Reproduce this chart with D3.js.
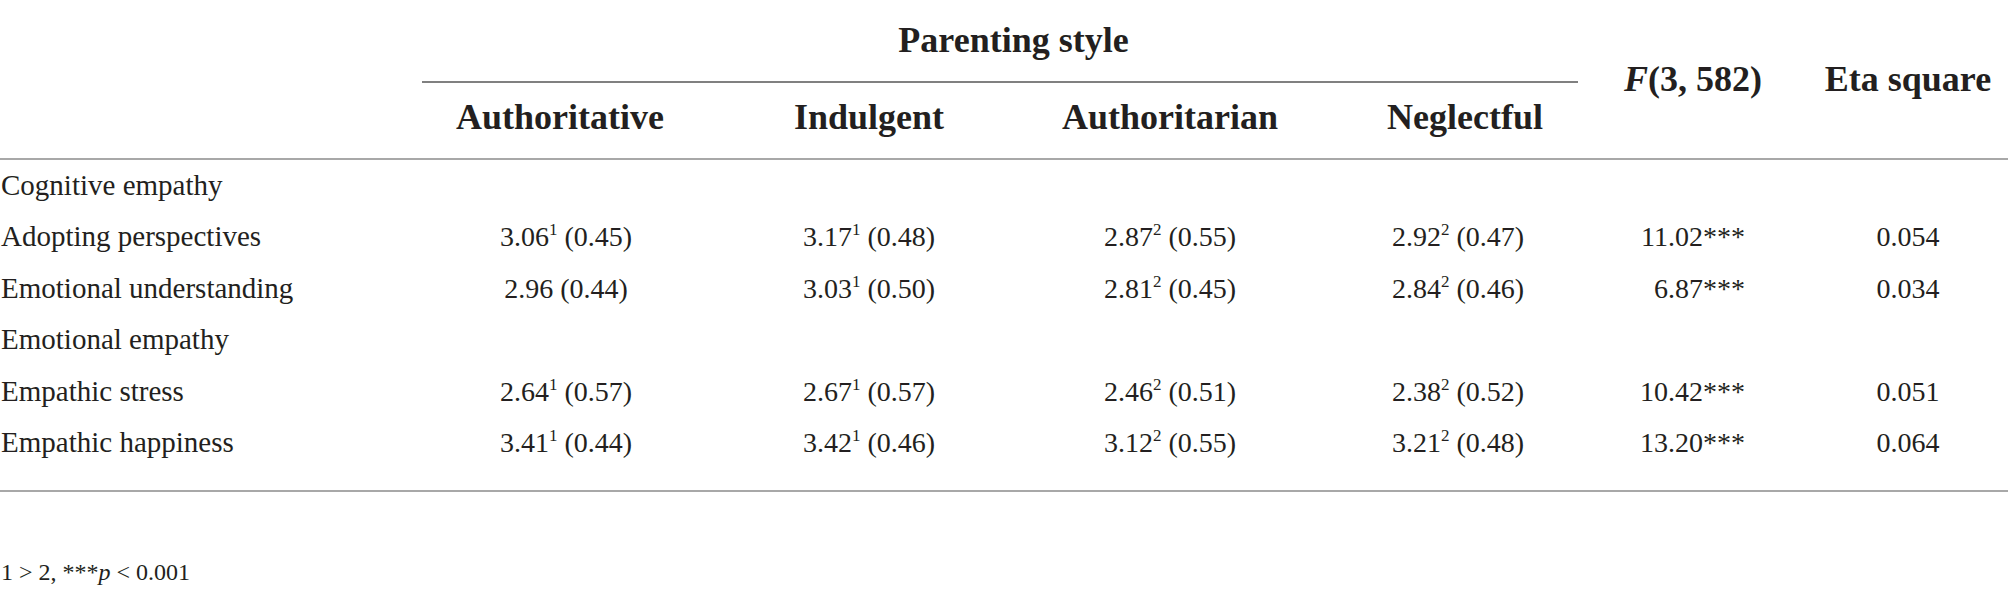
<!DOCTYPE html>
<html>
<head>
<meta charset="utf-8">
<script src="https://cdn.jsdelivr.net/npm/d3@7"></script>
<style>
    html, body { margin: 0; padding: 0; background: #fff; }
    svg { display: block; font-family: "Liberation Serif", "DejaVu Serif", serif; }
    .head { font-weight: bold; font-size: 36px; fill: #231f20; }
    .label { font-size: 29px; fill: #231f20; }
    .cell { font-size: 28px; fill: #231f20; }
    .note { font-size: 24px; fill: #231f20; }
</style>
</head>
<body>
<div id="chart"></div>
<script>
// table content
const groupTitle = "Parenting style";
const styles = ["Authoritative", "Indulgent", "Authoritarian", "Neglectful"];
const rowLabels = [
    "Cognitive empathy",
    "Adopting perspectives",
    "Emotional understanding",
    "Emotional empathy",
    "Empathic stress",
    "Empathic happiness"
];
const sectionRows = ["Cognitive empathy", "Emotional empathy"];

// one array per measure row: means per style
const meanValues = [
    [3.06, 3.17, 2.87, 2.92],
    [2.96, 3.03, 2.81, 2.84],
    [2.64, 2.67, 2.46, 2.38],
    [3.41, 3.42, 3.12, 3.21]
];
const sdValues = [
    [0.45, 0.48, 0.55, 0.47],
    [0.44, 0.50, 0.45, 0.46],
    [0.57, 0.57, 0.51, 0.52],
    [0.44, 0.46, 0.55, 0.48]
];
const groupMarks = [
    ["1", "1", "2", "2"],
    ["", "1", "2", "2"],
    ["1", "1", "2", "2"],
    ["1", "1", "2", "2"]
];
const fValues = [11.02, 6.87, 10.42, 13.20];
const etaValues = [0.054, 0.034, 0.051, 0.064];
const footnote = ["1 > 2, ***", "p", " < 0.001"];

const width = 2008;
const height = 595;

const svg = d3.select("#chart")
    .append("svg")
    .attr("width", width)
    .attr("height", height);

// layout
const headerX = d3.scaleOrdinal()
    .domain(styles)
    .range([560, 869, 1170, 1465]);
const valueX = d3.scaleOrdinal()
    .domain(styles)
    .range([566, 869, 1170, 1458]);
const fRight = 1745;
const fHeadX = 1693;
const etaX = 1908;

const rowY = d3.scalePoint()
    .domain(rowLabels)
    .range([195, 452]);

const fmt2 = d3.format(".2f");
const fmt3 = d3.format(".3f");

const addLine = (x1, x2, y, color) => {
    svg.append("line")
        .attr("x1", x1)
        .attr("x2", x2)
        .attr("y1", y)
        .attr("y2", y)
        .attr("stroke", color)
        .attr("stroke-width", 2);
};

// header
svg.append("text")
    .attr("class", "head")
    .attr("x", (headerX("Authoritative") + headerX("Neglectful")) / 2 + 1)
    .attr("y", 52)
    .attr("text-anchor", "middle")
    .text(groupTitle);

addLine(422, 1578, 82, "#808080");

svg.selectAll("text.style-head")
    .data(styles)
    .join("text")
    .attr("class", "head style-head")
    .attr("x", d => headerX(d))
    .attr("y", 129)
    .attr("text-anchor", "middle")
    .text(d => d);

const fHead = svg.append("text")
    .attr("class", "head")
    .attr("x", fHeadX)
    .attr("y", 91)
    .attr("text-anchor", "middle");
fHead.append("tspan").attr("font-style", "italic").text("F");
fHead.append("tspan").text("(3, 582)");

svg.append("text")
    .attr("class", "head")
    .attr("x", etaX)
    .attr("y", 91)
    .attr("text-anchor", "middle")
    .text("Eta square");

addLine(0, width, 159, "#a8a8a8");

// row labels
svg.selectAll("text.label")
    .data(rowLabels)
    .join("text")
    .attr("class", "label")
    .attr("x", 1)
    .attr("y", d => rowY(d))
    .text(d => d);

// measure rows
const measureRows = rowLabels.filter(d => !sectionRows.includes(d));

measureRows.forEach((row, i) => {
    const y = rowY(row);
    styles.forEach((s, j) => {
        const t = svg.append("text")
            .attr("class", "cell")
            .attr("x", valueX(s))
            .attr("y", y)
            .attr("text-anchor", "middle");
        t.append("tspan").text(fmt2(meanValues[i][j]));
        if (groupMarks[i][j]) {
            t.append("tspan")
                .attr("font-size", 17)
                .attr("dy", -11)
                .text(groupMarks[i][j]);
            t.append("tspan")
                .attr("dy", 11)
                .text(" (" + fmt2(sdValues[i][j]) + ")");
        } else {
            t.append("tspan").text(" (" + fmt2(sdValues[i][j]) + ")");
        }
    });

    svg.append("text")
        .attr("class", "cell")
        .attr("x", fRight)
        .attr("y", y)
        .attr("text-anchor", "end")
        .text(fmt2(fValues[i]) + "***");

    svg.append("text")
        .attr("class", "cell")
        .attr("x", etaX)
        .attr("y", y)
        .attr("text-anchor", "middle")
        .text(fmt3(etaValues[i]));
});

addLine(0, width, 491, "#a8a8a8");

// footnote
const note = svg.append("text")
    .attr("class", "note")
    .attr("x", 1)
    .attr("y", 580);
note.append("tspan").text(footnote[0]);
note.append("tspan").attr("font-style", "italic").text(footnote[1]);
note.append("tspan").text(footnote[2]);
</script>
</body>
</html>
